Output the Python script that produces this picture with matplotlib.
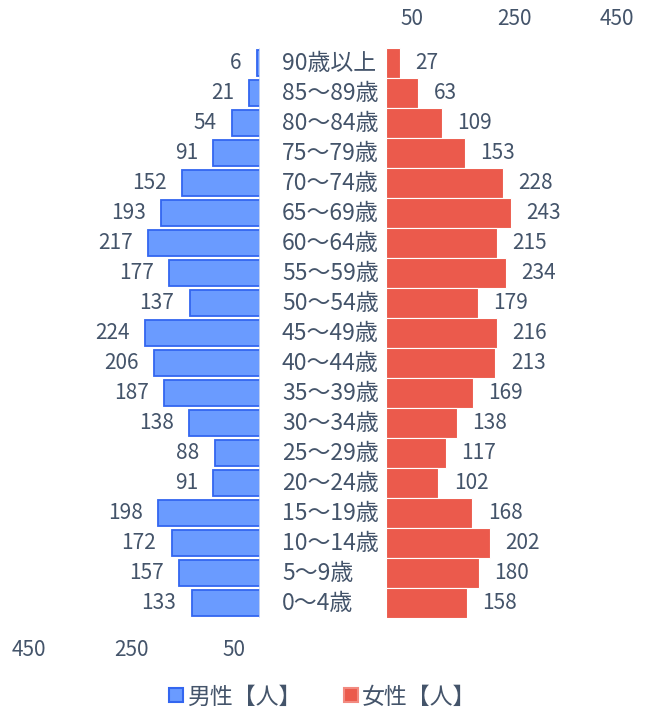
import matplotlib.pyplot as plt
from matplotlib.lines import Line2D
from matplotlib.transforms import blended_transform_factory

plt.rcParams['font.family'] = ['Noto Sans CJK JP', 'DejaVu Sans']

age_groups = ["90歳以上", "85〜89歳", "80〜84歳", "75〜79歳", "70〜74歳",
              "65〜69歳", "60〜64歳", "55〜59歳", "50〜54歳", "45〜49歳",
              "40〜44歳", "35〜39歳", "30〜34歳", "25〜29歳", "20〜24歳",
              "15〜19歳", "10〜14歳", "5〜9歳", "0〜4歳"]
male = [6, 21, 54, 91, 152, 193, 217, 177, 137, 224,
        206, 187, 138, 88, 91, 198, 172, 157, 133]
female = [27, 63, 109, 153, 228, 243, 215, 234, 179, 216,
          213, 169, 138, 117, 102, 168, 202, 180, 158]
ticks = [50, 250, 450]

text_color = "#44546a"
male_fill, male_edge = "#6a9bff", "#3366f0"
female_fill = "#eb5a4c"

W, H = 649, 713
fig = plt.figure(figsize=(W / 100, H / 100), dpi=100)

top, bottom = 48, 618
ax_h = (bottom - top) / H
ax_b = (H - bottom) / H
ax_l = fig.add_axes([3 / W, ax_b, 257 / W, ax_h])
ax_r = fig.add_axes([386 / W, ax_b, 257 / W, ax_h])

rows = list(range(len(age_groups)))

ax_l.barh(rows, male, height=0.88, color=male_fill, edgecolor=male_edge, linewidth=1.3)
ax_r.barh(rows, female, height=1.0, color=female_fill, edgecolor="white", linewidth=0.8)

for ax in (ax_l, ax_r):
    ax.set_ylim(len(rows) - 0.5, -0.5)
    ax.set_yticks([])
    for s in ax.spines.values():
        s.set_visible(False)
    ax.set_xticks(ticks)
    ax.set_xticklabels([str(t) for t in ticks])
    ax.tick_params(axis="x", length=0, labelsize=15, labelcolor=text_color)

ax_l.set_xlim(500, 0)
ax_r.set_xlim(0, 500)
ax_l.tick_params(axis="x", pad=15)
ax_r.xaxis.tick_top()
ax_r.tick_params(axis="x", pad=13)

# faint baseline on the male side
ax_l.axvline(0, color="#d9e2f3", linewidth=1.2)

for i, v in enumerate(male):
    ax_l.annotate(str(v), (v, i), xytext=(-11, 0), textcoords="offset points",
                  ha="right", va="center", fontsize=15, color=text_color)
for i, v in enumerate(female):
    ax_r.annotate(str(v), (v, i), xytext=(11, 0), textcoords="offset points",
                  ha="left", va="center", fontsize=15, color=text_color)

tr = blended_transform_factory(fig.transFigure, ax_r.transData)
for i, name in enumerate(age_groups):
    ax_r.text(282 / W, i, name, transform=tr, ha="left", va="center",
              fontsize=16.5, color=text_color, clip_on=False)

handles = [
    Line2D([], [], linestyle="none", marker="s", markersize=10,
           markerfacecolor=male_fill, markeredgecolor=male_edge, markeredgewidth=1.5),
    Line2D([], [], linestyle="none", marker="s", markersize=10,
           markerfacecolor=female_fill, markeredgecolor="#f28a80", markeredgewidth=1.5),
]
fig.legend(handles, ["男性【人】", "女性【人】"], loc="center",
           bbox_to_anchor=(322 / W, (H - 697) / H), ncol=2, frameon=False,
           fontsize=16.5, labelcolor=text_color, handletextpad=0.15,
           columnspacing=1.8, handlelength=0.7)

fig.savefig("out.png", dpi=100)
